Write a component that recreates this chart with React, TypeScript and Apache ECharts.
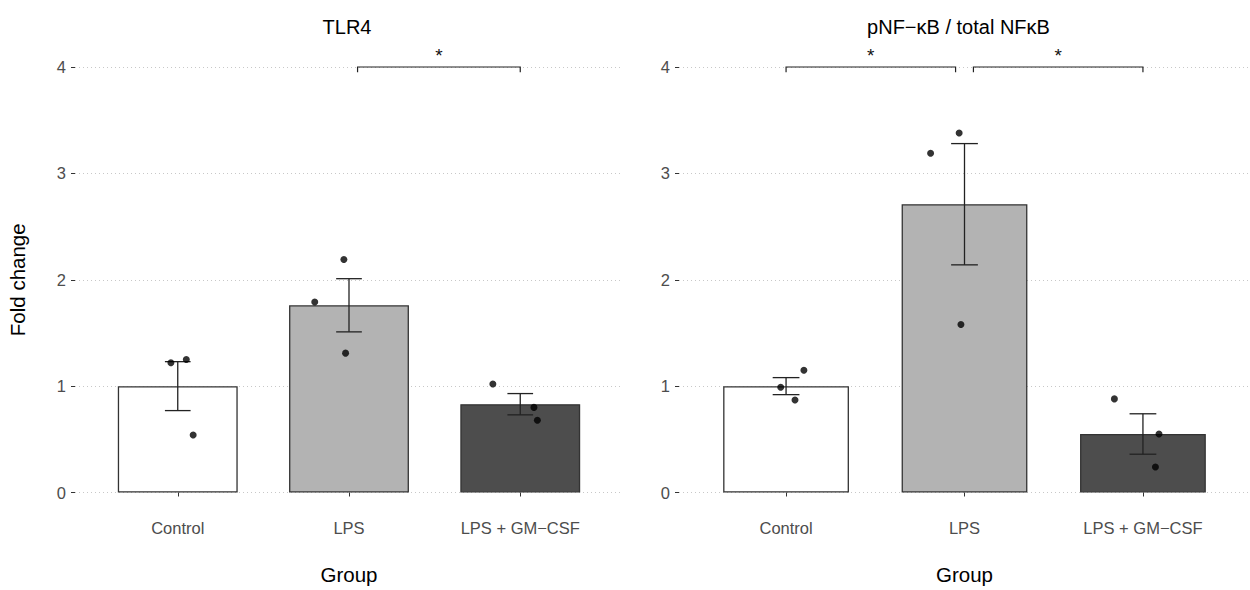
import React, { useEffect, useRef } from "react";
import * as echarts from "echarts";

const categories = ["Control", "LPS", "LPS + GM\u2212CSF"];
const barColors = ["#FFFFFF", "#B3B3B3", "#4D4D4D"];
const yTicks = [0, 1, 2, 3, 4];

const tlr4Mean = [1.0, 1.76, 0.83];
const tlr4Err = [0.23, 0.25, 0.1];
const tlr4PointX = [0.96, 1.05, 1.09, 1.97, 1.8, 1.98, 2.84, 3.08, 3.1];
const tlr4PointY = [1.22, 1.25, 0.54, 2.19, 1.79, 1.31, 1.02, 0.8, 0.68];
const tlr4BracketFrom = [2.05];
const tlr4BracketTo = [3.0];
const tlr4BracketY = [4.0];
const tlr4BracketLabel = ["*"];

const nfkbMean = [1.0, 2.71, 0.55];
const nfkbErr = [0.08, 0.57, 0.19];
const nfkbPointX = [1.1, 0.97, 1.05, 1.97, 1.81, 1.98, 2.84, 3.09, 3.07];
const nfkbPointY = [1.15, 0.99, 0.87, 3.38, 3.19, 1.58, 0.88, 0.55, 0.24];
const nfkbBracketFrom = [1.0, 2.05];
const nfkbBracketTo = [1.95, 3.0];
const nfkbBracketY = [4.0, 4.0];
const nfkbBracketLabel = ["*", "*"];

const panelTitles = ["TLR4", "pNF\u2212\u03BAB / total NF\u03BAB"];
const xTitle = "Group";
const yTitle = "Fold change";

const FONT = "'Liberation Sans', Arial, Helvetica, sans-serif";

export default function App() {
  const ref = useRef<HTMLDivElement>(null);
  useEffect(() => {
    if (!ref.current) return;
    const chart = echarts.init(ref.current, undefined, { renderer: "svg" });

    const grids = [
      { left: 75, top: 67, width: 548, height: 425.5 },
      { left: 679, top: 67, width: 575, height: 425.5 },
    ];
    const panels = [
      {
        mean: tlr4Mean, err: tlr4Err, px: tlr4PointX, py: tlr4PointY,
        bf: tlr4BracketFrom, bt: tlr4BracketTo, by: tlr4BracketY, bl: tlr4BracketLabel,
      },
      {
        mean: nfkbMean, err: nfkbErr, px: nfkbPointX, py: nfkbPointY,
        bf: nfkbBracketFrom, bt: nfkbBracketTo, by: nfkbBracketY, bl: nfkbBracketLabel,
      },
    ];

    const xAxes: any[] = [];
    const yAxes: any[] = [];
    const series: any[] = [];
    const graphics: any[] = [];

    panels.forEach((p, i) => {
      const g = grids[i];
      const spacing = g.width / 3.2;
      xAxes.push({
        type: "value",
        gridIndex: i,
        min: 0.4,
        max: 3.6,
        offset: 21,
        splitLine: { show: false },
        axisLine: { show: false },
        axisTick: {
          show: true,
          customValues: [1, 2, 3],
          length: 4,
          lineStyle: { color: "#333333", width: 1 },
        },
        axisLabel: {
          customValues: [1, 2, 3],
          formatter: (v: number) => categories[Math.round(v) - 1] ?? "",
          color: "#4D4D4D",
          fontSize: 16.5,
          fontFamily: FONT,
          margin: 6,
        },
        name: xTitle,
        nameLocation: "middle",
        nameGap: 50,
        nameTextStyle: { color: "#000000", fontSize: 20.5, fontFamily: FONT },
      });
      yAxes.push({
        type: "value",
        gridIndex: i,
        min: 0,
        max: 4,
        interval: 1,
        data: yTicks,
        splitLine: {
          show: true,
          lineStyle: { color: "#C8C8C8", width: 1, type: [1, 3] },
        },
        axisLine: { show: false },
        axisTick: { show: true, length: 4, lineStyle: { color: "#333333" } },
        axisLabel: { color: "#4D4D4D", fontSize: 16.5, fontFamily: FONT, margin: 9 },
        name: i === 0 ? yTitle : "",
        nameLocation: "middle",
        nameGap: 47,
        nameTextStyle: { color: "#000000", fontSize: 20.5, fontFamily: FONT },
      });

      series.push({
        type: "bar",
        xAxisIndex: i,
        yAxisIndex: i,
        barWidth: 0.7 * spacing,
        z: 1,
        itemStyle: { borderColor: "#333333", borderWidth: 1.3 },
        data: p.mean.map((m, k) => ({
          value: [k + 1, m],
          itemStyle: { color: barColors[k] },
        })),
      });

      series.push({
        type: "custom",
        xAxisIndex: i,
        yAxisIndex: i,
        z: 3,
        clip: false,
        encode: { x: 0, y: [1, 2] },
        data: p.mean.map((m, k) => [k + 1, m - p.err[k], m + p.err[k]]),
        renderItem: (params: any, api: any) => {
          const x = api.value(0);
          const lo = api.value(1);
          const hi = api.value(2);
          const a = api.coord([x, lo]);
          const b = api.coord([x, hi]);
          const l = api.coord([x - 0.075, lo])[0];
          const r = api.coord([x + 0.075, lo])[0];
          const st = { stroke: "#222222", lineWidth: 1.3 };
          return {
            type: "group",
            children: [
              { type: "line", shape: { x1: a[0], y1: a[1], x2: b[0], y2: b[1] }, style: st },
              { type: "line", shape: { x1: l, y1: a[1], x2: r, y2: a[1] }, style: st },
              { type: "line", shape: { x1: l, y1: b[1], x2: r, y2: b[1] }, style: st },
            ],
          };
        },
      });

      series.push({
        type: "scatter",
        xAxisIndex: i,
        yAxisIndex: i,
        z: 4,
        symbol: "circle",
        symbolSize: 7,
        itemStyle: { color: "#000000" },
        data: p.px.map((x, k) => [x, p.py[k]]),
      });

      series.push({
        type: "custom",
        xAxisIndex: i,
        yAxisIndex: i,
        z: 5,
        clip: false,
        encode: { x: [0, 1], y: 2 },
        data: p.bf.map((f, k) => [f, p.bt[k], p.by[k], k]),
        renderItem: (params: any, api: any) => {
          const x1 = api.value(0);
          const x2 = api.value(1);
          const y = api.value(2);
          const k = api.value(3);
          const p1 = api.coord([x1, y - 0.05]);
          const p2 = api.coord([x1, y]);
          const p3 = api.coord([x2, y]);
          const p4 = api.coord([x2, y - 0.05]);
          const t = api.coord([(x1 + x2) / 2, y + 0.11]);
          return {
            type: "group",
            children: [
              {
                type: "polyline",
                shape: { points: [p1, p2, p3, p4] },
                style: { stroke: "#222222", lineWidth: 1.2, fill: "none" },
              },
              {
                type: "text",
                x: t[0],
                y: t[1],
                style: {
                  text: p.bl[k],
                  fill: "#111111",
                  fontSize: 19,
                  fontFamily: FONT,
                  align: "center",
                  verticalAlign: "middle",
                },
              },
            ],
          };
        },
      });

      graphics.push({
        type: "text",
        x: g.left + g.width / 2 - (i === 0 ? 2 : 8),
        y: 27,
        style: {
          text: panelTitles[i],
          fill: "#000000",
          fontSize: 20,
          fontFamily: FONT,
          textAlign: "center",
          textVerticalAlign: "middle",
        },
      });
    });

    chart.setOption({
      animation: false,
      backgroundColor: "#FFFFFF",
      grid: grids.map((g) => ({ ...g, containLabel: false })),
      xAxis: xAxes,
      yAxis: yAxes,
      series,
      graphic: graphics,
    });
    return () => chart.dispose();
  }, []);

  return (
    <div
      ref={ref}
      style={{ position: "fixed", left: 0, top: 0, width: 1250, height: 590 }}
    />
  );
}
